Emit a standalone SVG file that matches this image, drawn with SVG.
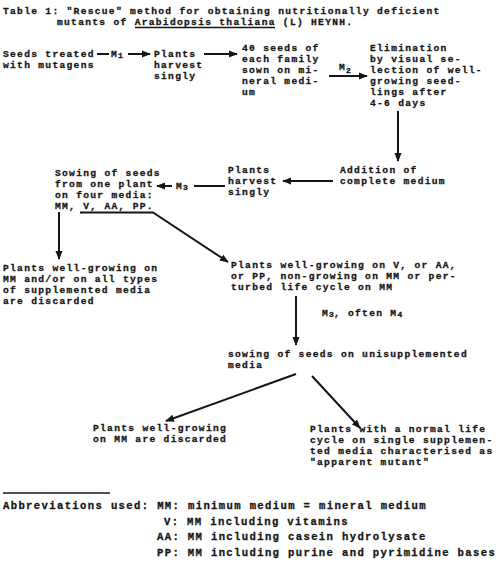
<svg xmlns="http://www.w3.org/2000/svg" width="498" height="564" viewBox="0 0 498 564">
<defs>
<style>
text { font-family: "Liberation Mono", "DejaVu Sans Mono", monospace; font-weight: bold; font-size: 9.6px; letter-spacing: 1.3px; fill: #161616; stroke: #161616; stroke-width: 0.3px; }
.ab { font-size: 10.6px; letter-spacing: 1.35px; }
.sub { font-size: 8px; letter-spacing: 0; }
.c { stroke: #161616; stroke-width: 2; fill: none; }
.u { stroke: #161616; stroke-width: 1.3; fill: none; }
</style>
<marker id="ah" viewBox="0 0 10 10" refX="9" refY="5" markerWidth="4.5" markerHeight="4.5" orient="auto" markerUnits="strokeWidth">
<path d="M0,1 L10,5 L0,9 z" fill="#161616"/>
</marker>
</defs>
<rect width="498" height="564" fill="#ffffff"/>
<g id="title">
<text x="3" y="14"><tspan x="3" y="14">Table 1: "Rescue" method for obtaining nutritionally deficient</tspan><tspan x="57" dy="11">mutants of Arabidopsis thaliana (L) HEYNH.</tspan></text>
<line class="u" x1="135" y1="27.5" x2="275" y2="27.5"/>
</g>
<g id="n-seeds">
<text x="3" y="57"><tspan x="3" y="57">Seeds treated</tspan><tspan x="3" dy="11">with mutagens</tspan></text>
</g>
<g id="n-plants1">
<text x="154" y="57"><tspan x="154" y="57">Plants</tspan><tspan x="154" dy="11">harvest</tspan><tspan x="154" dy="11">singly</tspan></text>
</g>
<g id="n-40seeds">
<text x="242" y="51"><tspan x="242" y="51">40 seeds of</tspan><tspan x="242" dy="11">each family</tspan><tspan x="242" dy="11">sown on mi-</tspan><tspan x="242" dy="11">neral medi-</tspan><tspan x="242" dy="11">um</tspan></text>
</g>
<g id="n-elim">
<text x="370" y="51"><tspan x="370" y="51">Elimination</tspan><tspan x="370" dy="11">by visual se-</tspan><tspan x="370" dy="11">lection of well-</tspan><tspan x="370" dy="11">growing seed-</tspan><tspan x="370" dy="11">lings after</tspan><tspan x="370" dy="11">4-6 days</tspan></text>
</g>
<g id="n-addition">
<text x="340" y="173"><tspan x="340" y="173">Addition of</tspan><tspan x="340" dy="11">complete medium</tspan></text>
</g>
<g id="n-plants2">
<text x="228" y="173"><tspan x="228" y="173">Plants</tspan><tspan x="228" dy="11">harvest</tspan><tspan x="228" dy="11">singly</tspan></text>
</g>
<g id="n-sowing">
<text x="55" y="176"><tspan x="55" y="176">Sowing of seeds</tspan><tspan x="55" dy="11">from one plant</tspan><tspan x="55" dy="11">on four media:</tspan><tspan x="55" dy="11">MM, V, AA, PP.</tspan></text>
</g>
<g id="n-discard1">
<text x="3" y="271"><tspan x="3" y="271">Plants well-growing on</tspan><tspan x="3" dy="11">MM and/or on all types</tspan><tspan x="3" dy="11">of supplemented media</tspan><tspan x="3" dy="11">are discarded</tspan></text>
</g>
<g id="n-wellV">
<text x="231" y="268"><tspan x="231" y="268">Plants well-growing on V, or AA,</tspan><tspan x="231" dy="11">or PP, non-growing on MM or per-</tspan><tspan x="231" dy="11">turbed life cycle on MM</tspan></text>
</g>
<g id="n-unisup">
<text x="228" y="357"><tspan x="228" y="357">sowing of seeds on unisupplemented</tspan><tspan x="228" dy="11">media</tspan></text>
</g>
<g id="n-discard2">
<text x="93" y="431"><tspan x="93" y="431">Plants well-growing</tspan><tspan x="93" dy="11">on MM are discarded</tspan></text>
</g>
<g id="n-mutant">
<text x="310" y="432"><tspan x="310" y="432">Plants with a normal life</tspan><tspan x="310" dy="11">cycle on single supplemen-</tspan><tspan x="310" dy="11">ted media characterised as</tspan><tspan x="310" dy="11">"apparent mutant"</tspan></text>
</g>
<g id="connectors">
<line class="c" x1="97" y1="54" x2="109" y2="54"/>
<text x="111" y="57">M<tspan class="sub" dy="1">1</tspan></text>
<line class="c" x1="128" y1="54" x2="150" y2="54" marker-end="url(#ah)"/>
<line class="c" x1="204" y1="54" x2="237" y2="54" marker-end="url(#ah)"/>
<text x="339" y="70">M<tspan class="sub" dy="3">2</tspan></text>
<line class="c" x1="329" y1="76" x2="367" y2="76" marker-end="url(#ah)"/>
<line class="c" x1="398" y1="111" x2="398" y2="161" marker-end="url(#ah)"/>
<line class="c" x1="333" y1="181" x2="283" y2="181" marker-end="url(#ah)"/>
<line class="c" x1="225" y1="186" x2="194" y2="186"/>
<text x="176" y="189">M<tspan class="sub" dy="1">3</tspan></text>
<line class="c" x1="172" y1="186" x2="157" y2="186" marker-end="url(#ah)"/>
<polyline class="c" points="80,212.5 153,212.5 228,262" marker-end="url(#ah)"/>
<line class="c" x1="59" y1="212" x2="59" y2="259" marker-end="url(#ah)"/>
<line class="c" x1="296" y1="296" x2="296" y2="345" marker-end="url(#ah)"/>
<text x="322" y="316">M<tspan class="sub" dy="1">3</tspan><tspan dy="-1">, often M</tspan><tspan class="sub" dy="1">4</tspan></text>
<line class="c" x1="296" y1="374" x2="166" y2="421" marker-end="url(#ah)"/>
<line class="c" x1="312" y1="376" x2="360" y2="428" marker-end="url(#ah)"/>
</g>
<g id="abbreviations">
<line class="u" x1="3" y1="493" x2="110" y2="493"/>
<text class="ab" x="3" y="509"><tspan x="3" y="509">Abbreviations used: MM: minimum medium = mineral medium</tspan><tspan x="164" dy="15.5">V: MM including vitamins</tspan><tspan x="157" dy="15.5">AA: MM including casein hydrolysate</tspan><tspan x="157" dy="15.5">PP: MM including purine and pyrimidine bases</tspan></text>
</g>
</svg>
